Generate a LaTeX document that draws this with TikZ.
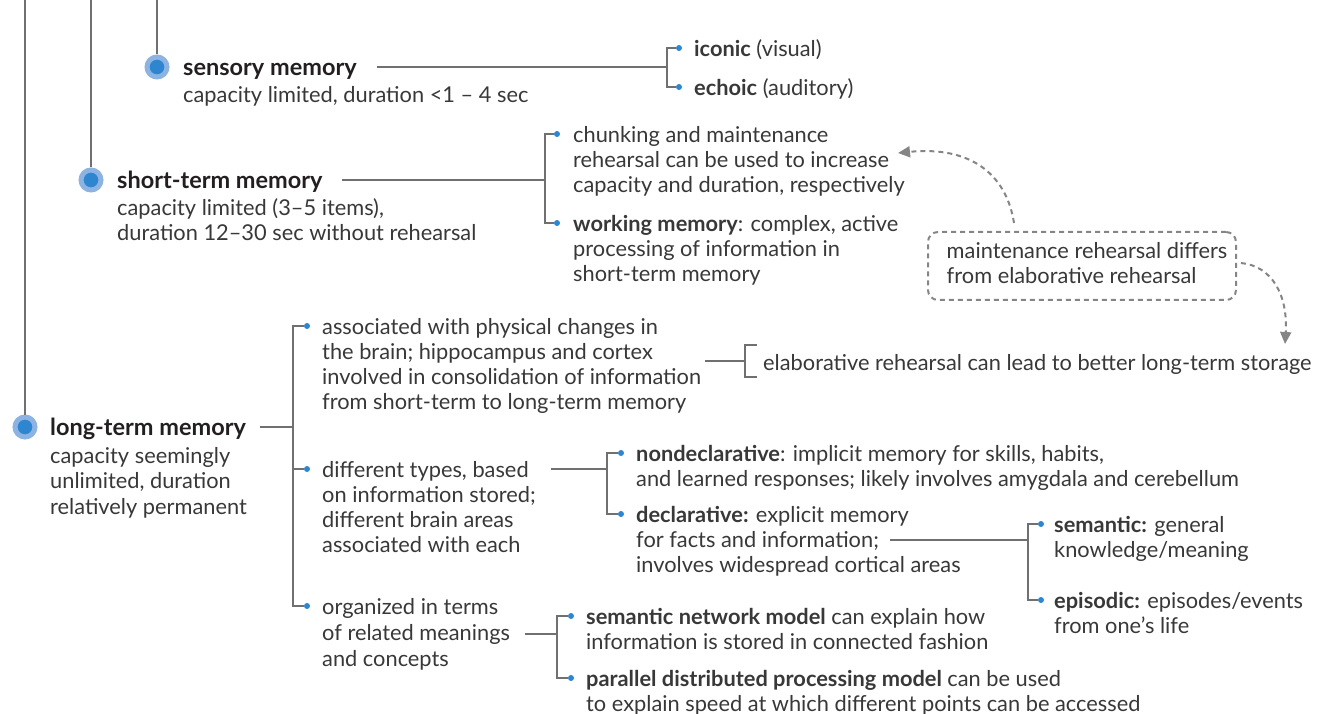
\documentclass[tikz,border=0pt]{standalone}
\usepackage{fontspec}
\setmainfont{Lato}
\usetikzlibrary{arrows.meta}
\definecolor{txt}{HTML}{383838}
\definecolor{ttlc}{HTML}{231F20}
\definecolor{ln}{HTML}{707070}
\definecolor{dotb}{HTML}{2E86D1}
\definecolor{ringb}{HTML}{8DB3E2}
\definecolor{dshc}{HTML}{858585}
\begin{document}
\begin{tikzpicture}[x=1pt,y=-1pt,
  tx/.style={anchor=north west,inner sep=0,align=left,font=\fontsize{21.8}{25}\selectfont,text=txt},
  ttl/.style={anchor=north west,inner sep=0,align=left,font=\fontsize{23.5}{25}\selectfont\bfseries,text=ttlc},
  bigdot/.style={circle,fill=dotb,draw=ringb,line width=5pt,minimum size=20pt,inner sep=0},
  smdot/.style={circle,fill=dotb,inner sep=0,minimum size=6pt},
  conn/.style={draw=ln,line width=1.3pt},
  trunk/.style={draw=ln,line width=1.5pt},
  dashc/.style={draw=dshc,line width=2pt,dash pattern=on 5pt off 4pt},
  dbox/.style={draw=dshc,line width=2pt,dash pattern=on 5pt off 4pt,rounded corners=10pt,
    minimum width=308pt,minimum height=68pt,align=left,inner sep=0pt,
    font=\fontsize{21.8}{25}\selectfont,text=txt},
  tip/.style={-{Triangle[length=12pt,width=11pt]}}
]
\useasboundingbox (0,0) rectangle (1318,714);

% big dots
\node[bigdot] (sdot) at (157,67) {};
\node[bigdot] (stdot) at (91,180) {};
\node[bigdot] (ldot) at (25,427) {};
\coordinate (top1) at (25,0);
\coordinate (top2) at (91,0);
\coordinate (top3) at (157,0);
\draw[trunk] (top1) -- (ldot);
\draw[trunk] (top2) -- (stdot);
\draw[trunk] (top3) -- (sdot);

% sensory memory
\node[ttl] (stitle) at (183,58) {\strut sensory memory};
\node[tx] (ssub) at (183,84.5) {\strut capacity limited, duration <1 – 4 sec};
\coordinate (s0) at (377,67);
\coordinate (sj) at (667,67);
\node[smdot] (s1) at (679,48) {};
\node[smdot] (s2) at (679,87) {};
\draw[conn] (s0) -- (sj);
\draw[conn] (s1) -- (s1 -| sj) -- (s2 -| sj) -- (s2);
\node[tx] (iconic) at (694,38.5) {\strut\textbf{iconic} (visual)};
\node[tx] (echoic) at (694,77.5) {\strut\textbf{echoic} (auditory)};

% short-term memory
\node[ttl] (sttitle) at (117,171) {\strut short-term memory};
\node[tx] (stsub) at (117,197.5) {\strut capacity limited (3–5 items),\\duration 12–30 sec without rehearsal};
\coordinate (st0) at (342,180);
\coordinate (stj) at (545,180);
\node[smdot] (st1) at (557,134) {};
\node[smdot] (st2) at (557,223) {};
\draw[conn] (st0) -- (stj);
\draw[conn] (st1) -- (st1 -| stj) -- (st2 -| stj) -- (st2);
\node[tx] (chunk) at (573,124.5) {\strut chunking and maintenance\\rehearsal can be used to increase\\capacity and duration, respectively};
\node[tx] (work) at (573,213.5) {\strut\textbf{working memory}: complex, active\\processing of information in\\short-term memory};

% dashed box and arrows
\node[dbox] (mbox) at (1082,266) {\strut\hspace*{10pt}maintenance rehearsal differs\\\hspace*{10pt}from elaborative rehearsal\strut};
\coordinate (a1end) at (898,153);
\coordinate (a2end) at (1285,344);
\draw[dashc,tip] ([xshift=87pt,yshift=8pt]mbox.north west) .. controls (1006,172) and (968,146) .. (a1end);
\draw[dashc,tip] ([xshift=4pt,yshift=3pt]mbox.east) .. controls (1272,266) and (1288,295) .. (a2end);

% long-term memory
\node[ttl] (ltitle) at (50,418) {\strut long-term memory};
\node[tx] (lsub) at (50,445.5) {\strut capacity seemingly\\[0.5pt]unlimited, duration\\[0.5pt]relatively permanent};
\coordinate (l0) at (260,427);
\coordinate (lj) at (293,427);
\node[smdot] (l1) at (307,326) {};
\node[smdot] (l2) at (307,469) {};
\node[smdot] (l3) at (307,606) {};
\draw[conn] (l0) -- (lj);
\draw[conn] (l1) -- (l1 -| lj) -- (l3 -| lj) -- (l3);
\draw[conn] (l2) -- (l2 -| lj);

\node[tx] (phys) at (322,316.5) {\strut associated with physical changes in\\the brain; hippocampus and cortex\\involved in consolidation of information\\from short-term to long-term memory};
\coordinate (e0) at (705,361);
\coordinate (ej) at (745,361);
\coordinate (e1) at (757,345);
\coordinate (e2) at (757,377);
\draw[conn] (e0) -- (ej);
\draw[conn] (e1) -- (e1 -| ej) -- (e2 -| ej) -- (e2);
\node[tx] (elab) at (763,352.5) {\strut elaborative rehearsal can lead to better long-term storage};

\node[tx] (types) at (322,459.5) {\strut different types, based\\on information stored;\\different brain areas\\associated with each};
\coordinate (t0) at (551,469);
\coordinate (tj) at (607,469);
\node[smdot] (t1) at (621,453) {};
\node[smdot] (t2) at (621,514) {};
\draw[conn] (t0) -- (tj);
\draw[conn] (t1) -- (t1 -| tj) -- (t2 -| tj) -- (t2);
\node[tx] (nondecl) at (636,443.5) {\strut\textbf{nondeclarative}: implicit memory for skills, habits,\\and learned responses; likely involves amygdala and cerebellum};
\node[tx] (decl) at (636,504.5) {\strut\textbf{declarative:} explicit memory\\for facts and information;\\involves widespread cortical areas};
\coordinate (d0) at (890,540);
\coordinate (dj) at (1028,540);
\node[smdot] (d1) at (1041,524) {};
\node[smdot] (d2) at (1041,600) {};
\draw[conn] (d0) -- (dj);
\draw[conn] (d1) -- (d1 -| dj) -- (d2 -| dj) -- (d2);
\node[tx] (sem) at (1054,514.5) {\strut\textbf{semantic:} general\\knowledge/meaning};
\node[tx] (epi) at (1054,590.5) {\strut\textbf{episodic:} episodes/events\\from one’s life};

\node[tx] (org) at (322,596.5) {\strut organized in terms\\[1.5pt]of related meanings\\[1pt]and concepts};
\coordinate (o0) at (525,634);
\coordinate (oj) at (557,634);
\node[smdot] (o1) at (571,616) {};
\node[smdot] (o2) at (571,678) {};
\draw[conn] (o0) -- (oj);
\draw[conn] (o1) -- (o1 -| oj) -- (o2 -| oj) -- (o2);
\node[tx] (snet) at (586,606.5) {\strut\textbf{semantic network model} can explain how\\information is stored in connected fashion};
\node[tx] (pdp) at (586,668.5) {\strut\textbf{parallel distributed processing model} can be used\\to explain speed at which different points can be accessed};
\end{tikzpicture}
\end{document}
